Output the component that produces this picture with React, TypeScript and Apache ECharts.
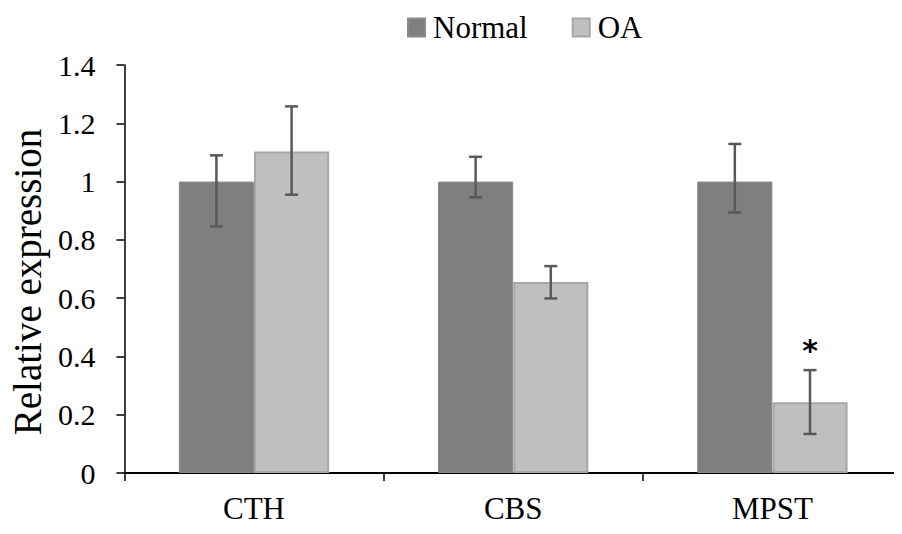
import React, { useEffect, useRef } from "react";
import * as echarts from "echarts";

const categories = ["CTH", "CBS", "MPST"];
const normalValues = [1.0, 1.0, 1.0];
const normalErrLow = [0.846, 0.946, 0.894];
const normalErrHigh = [1.09, 1.085, 1.129];
const oaValues = [1.103, 0.655, 0.243];
const oaErrLow = [0.955, 0.599, 0.134];
const oaErrHigh = [1.258, 0.71, 0.353];
const oaSignificant = [false, false, true];
const yTicks = [0, 0.2, 0.4, 0.6, 0.8, 1, 1.2, 1.4];

const FONT = "Liberation Serif";
const CAT_GAP = 0.42;

function errorSeries(name: string, low: number[], high: number[], sig: boolean[], side: number) {
  return {
    type: "custom",
    name: name + "-err",
    z: 10,
    silent: true,
    data: categories.map((_, i) => [i, low[i], high[i], sig[i] ? 1 : 0]),
    renderItem: (params: any, api: any) => {
      const idx = api.value(0);
      const bw = api.size([1, 0])[0];
      const barW = (bw * (1 - CAT_GAP)) / 2;
      const lowP = api.coord([idx, api.value(1)]);
      const highP = api.coord([idx, api.value(2)]);
      const x = lowP[0] + side * barW / 2;
      const cap = 6.5;
      const style = { stroke: "#595959", lineWidth: 2.5 };
      const children: any[] = [
        { type: "line", shape: { x1: x, y1: highP[1], x2: x, y2: lowP[1] }, style },
        { type: "line", shape: { x1: x - cap, y1: highP[1], x2: x + cap, y2: highP[1] }, style },
        { type: "line", shape: { x1: x - cap, y1: lowP[1], x2: x + cap, y2: lowP[1] }, style },
      ];
      if (api.value(3) === 1) {
        children.push({
          type: "text",
          style: {
            text: "*",
            x: x,
            y: highP[1] - 20,
            align: "center",
            verticalAlign: "middle",
            fontSize: 30,
            fontWeight: "bold",
            fontFamily: "DejaVu Sans",
            fill: "#000",
          },
        });
      }
      return { type: "group", children };
    },
  };
}

export default function App() {
  const ref = useRef<HTMLDivElement>(null);
  useEffect(() => {
    if (!ref.current) return;
    const chart = echarts.init(ref.current, undefined, { renderer: "svg" });
    chart.setOption({
      animation: false,
      backgroundColor: "#fff",
      textStyle: { fontFamily: FONT },
      legend: {
        top: 7,
        left: 402,
        itemWidth: 17,
        itemHeight: 18,
        itemGap: 44,
        icon: "rect",
        data: ["Normal", "OA"],
        textStyle: { fontFamily: FONT, fontSize: 31, color: "#000", padding: [0, 0, 0, 3] },
      },
      grid: { left: 123, right: 0, top: 65, bottom: 61, containLabel: false },
      xAxis: {
        type: "category",
        data: categories,
        boundaryGap: true,
        axisLine: { lineStyle: { color: "#000", width: 2 } },
        axisTick: { show: true, length: 8, lineStyle: { color: "#000", width: 1.5 } },
        axisLabel: { fontFamily: FONT, fontSize: 31, color: "#000", margin: 20 },
      },
      yAxis: {
        type: "value",
        min: yTicks[0],
        max: yTicks[yTicks.length - 1],
        interval: 0.2,
        name: "Relative expression",
        nameLocation: "middle",
        nameGap: 76,
        nameTextStyle: { fontFamily: FONT, fontSize: 39, color: "#000", padding: [0, 26, 0, 0] },
        splitLine: { show: false },
        axisLine: { show: true, lineStyle: { color: "#000", width: 1.5 } },
        axisTick: { show: true, length: 8, lineStyle: { color: "#000", width: 1.5 } },
        axisLabel: {
          fontFamily: FONT,
          fontSize: 30,
          color: "#000",
          margin: 29,
          formatter: (v: number) => String(Math.round(v * 10) / 10),
        },
      },
      series: [
        {
          name: "Normal",
          type: "bar",
          data: normalValues,
          barGap: "0%",
          barCategoryGap: CAT_GAP * 100 + "%",
          itemStyle: { color: "#7f7f7f", borderColor: "#8a8a8a", borderWidth: 1 },
        },
        {
          name: "OA",
          type: "bar",
          data: oaValues,
          barGap: "0%",
          barCategoryGap: CAT_GAP * 100 + "%",
          itemStyle: { color: "#bfbfbf", borderColor: "#a6a6a6", borderWidth: 2 },
        },
        errorSeries("Normal", normalErrLow, normalErrHigh, [false, false, false], -1),
        errorSeries("OA", oaErrLow, oaErrHigh, oaSignificant, 1),
      ],
    });
    return () => chart.dispose();
  }, []);
  return <div ref={ref} style={{ width: 902, height: 534, marginLeft: -8, marginTop: -8 }} />;
}
